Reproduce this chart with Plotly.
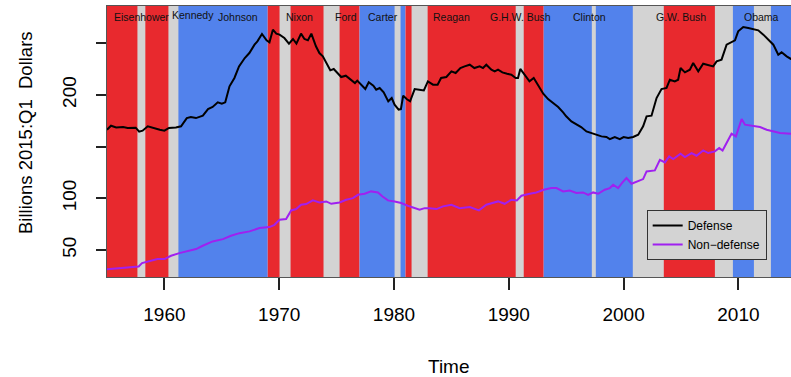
import plotly.graph_objects as go

# ---- data ----
def_years = [1955.0, 1955.35, 1955.8, 1956.4, 1956.8, 1957.5, 1957.8, 1958.1, 1958.55, 1959.0,
             1959.6, 1960.0, 1960.4, 1961.0, 1961.45, 1961.95, 1962.3, 1962.75, 1963.35, 1963.8,
             1964.2, 1964.65, 1965.0, 1965.3, 1965.67, 1966.1, 1966.5, 1967.0, 1967.4, 1967.85,
             1968.1, 1968.5, 1968.9, 1969.15, 1969.45, 1969.75, 1970.03, 1970.45, 1970.85, 1971.2,
             1971.5, 1971.9, 1972.2, 1972.5, 1972.8, 1973.2, 1973.5, 1973.8, 1974.1, 1974.45,
             1974.75, 1975.1, 1975.4, 1975.8, 1976.2, 1976.6, 1976.8, 1977.15, 1977.5, 1977.8,
             1978.2, 1978.45, 1978.75, 1979.1, 1979.5, 1979.8, 1980.05, 1980.4, 1980.6, 1980.8,
             1981.1, 1981.4, 1981.8, 1982.2, 1982.6, 1982.95, 1983.4, 1983.8, 1984.1, 1984.56,
             1985.0, 1985.37, 1985.78, 1986.15, 1986.6, 1987.0, 1987.46, 1987.75, 1988.04, 1988.48,
             1988.77, 1989.06, 1989.44, 1989.85, 1990.22, 1990.6, 1990.8, 1991.0, 1991.4, 1991.8,
             1992.17, 1992.55, 1993.0, 1993.42, 1993.86, 1994.3, 1994.73, 1995.0, 1995.45, 1995.9,
             1996.3, 1996.76, 1997.2, 1997.6, 1998.07, 1998.5, 1998.8, 1999.23, 1999.67, 2000.0,
             2000.4, 2000.83, 2001.27, 2001.7, 2002.0, 2002.43, 2002.87, 2003.3, 2003.74, 2004.03,
             2004.46, 2004.75, 2004.96, 2005.34, 2005.77, 2006.06, 2006.5, 2006.93, 2007.37, 2007.8,
             2008.1, 2008.53, 2008.97, 2009.4, 2009.7, 2009.98, 2010.42, 2010.86, 2011.3, 2011.73,
             2012.17, 2012.6, 2013.04, 2013.47, 2013.76, 2014.2, 2014.58, 2015.0]
defense = [166.3, 170.2, 168.6, 169.0, 168.0, 168.3, 164.4, 165.4, 169.6, 168.0,
           166.3, 165.4, 168.0, 168.6, 169.6, 177.6, 178.6, 177.6, 179.9, 186.3,
           188.3, 192.8, 191.5, 192.8, 208.3, 216.4, 227.6, 235.7, 240.5, 248.6,
           251.8, 258.9, 252.8, 250.9, 263.1, 259.3, 258.3, 255.0, 249.6, 254.1,
           249.6, 259.3, 254.1, 252.8, 259.3, 247.0, 240.5, 237.3, 230.9, 223.8,
           225.1, 221.2, 217.3, 218.6, 214.7, 211.5, 213.8, 209.9, 205.7, 212.2,
           209.0, 205.1, 206.7, 202.5, 193.8, 197.0, 190.5, 185.7, 186.3, 199.3,
           196.0, 193.8, 205.7, 205.1, 204.4, 213.1, 209.9, 209.9, 216.4, 217.3,
           222.8, 221.2, 226.0, 227.6, 229.2, 226.0, 227.6, 226.0, 229.2, 224.4,
           222.8, 224.4, 221.8, 220.5, 219.6, 216.4, 216.4, 225.1, 219.6, 213.1,
           216.4, 209.9, 201.2, 196.0, 192.2, 188.3, 183.1, 179.3, 174.4, 171.2,
           168.9, 164.7, 163.1, 161.5, 159.9, 159.3, 157.3, 159.3, 157.3, 159.3,
           158.3, 159.3, 161.5, 169.6, 179.3, 179.9, 197.0, 205.7, 206.7, 214.7,
           213.1, 214.7, 226.0, 221.8, 224.4, 230.9, 222.8, 230.2, 229.2, 227.6,
           232.5, 234.1, 248.6, 250.9, 252.8, 261.5, 265.7, 264.7, 263.8, 262.5,
           258.3, 253.4, 248.6, 238.9, 241.2, 237.3, 234.7, 233.0]

nd_years = [1955.0, 1956.1, 1957.24, 1957.76, 1958.05, 1958.7, 1959.4, 1960.0, 1960.58, 1961.3,
            1962.0, 1962.76, 1963.34, 1964.2, 1965.1, 1965.8, 1966.54, 1967.41, 1968.28, 1969.15,
            1969.59, 1970.03, 1970.6, 1971.04, 1971.48, 1971.9, 1972.35, 1972.93, 1973.5, 1974.1,
            1974.53, 1975.26, 1975.84, 1976.42, 1976.86, 1977.44, 1978.0, 1978.6, 1979.0, 1979.47,
            1980.05, 1980.63, 1981.2, 1981.8, 1982.23, 1982.67, 1983.1, 1983.7, 1984.27, 1985.0,
            1985.72, 1986.6, 1987.4, 1988.04, 1989.06, 1989.64, 1990.22, 1990.7, 1991.1, 1991.82,
            1992.4, 1993.04, 1993.71, 1994.15, 1994.73, 1995.31, 1995.89, 1996.47, 1996.91, 1997.34,
            1997.78, 1998.36, 1998.8, 1999.09, 1999.52, 1999.9, 2000.25, 2000.69, 2001.27, 2001.7,
            2002.0, 2002.72, 2003.16, 2003.6, 2003.97, 2004.32, 2004.96, 2005.34, 2005.92, 2006.35,
            2006.93, 2007.37, 2007.95, 2008.33, 2008.62, 2009.11, 2009.4, 2009.78, 2010.28, 2010.57,
            2011.15, 2011.88, 2012.46, 2013.04, 2013.62, 2014.58, 2015.0]
nondefense = [31.5, 32.5, 34.1, 34.1, 37.3, 38.9, 41.2, 41.2, 44.4, 47.0,
              48.6, 50.9, 54.1, 58.3, 60.5, 63.8, 66.3, 68.0, 71.2, 72.2,
              74.4, 79.2, 79.9, 88.3, 89.6, 93.8, 94.4, 98.0, 96.0, 97.0,
              94.7, 96.0, 98.6, 100.2, 103.4, 104.4, 106.7, 105.7, 101.8, 98.0,
              97.0, 95.4, 92.8, 90.5, 88.9, 90.5, 90.5, 89.6, 92.2, 93.8,
              90.5, 91.5, 88.3, 93.8, 97.0, 94.7, 98.6, 98.0, 102.5, 104.4,
              105.7, 108.3, 109.9, 109.9, 106.7, 107.6, 105.1, 105.7, 103.4, 105.7,
              104.4, 108.3, 109.9, 113.1, 109.9, 115.4, 119.6, 114.1, 116.3, 118.6,
              126.0, 127.0, 137.3, 134.7, 140.5, 138.0, 143.1, 139.9, 143.8, 141.2,
              146.3, 143.8, 145.4, 148.6, 146.3, 156.7, 162.5, 159.9, 176.7, 171.2,
              170.2, 168.9, 166.3, 164.7, 163.1, 162.5, 162.0]

party_start = [1953.0, 1961.05, 1969.0, 1977.0, 1981.0, 1993.04, 2001.0, 2009.05]
party_end = [1961.05, 1969.0, 1977.0, 1981.0, 1993.04, 2001.0, 2009.05, 2016.0]
party = ["R", "D", "R", "D", "R", "D", "R", "D"]

rec_start = [1957.65, 1960.35, 1970.03, 1973.86, 1980.05, 1981.53, 1990.60, 1997.23, 2000.80, 2007.95, 2011.35]
rec_end = [1958.34, 1961.22, 1970.99, 1975.26, 1980.57, 1982.93, 1991.30, 1997.58, 2003.50, 2009.52, 2012.83]

presidents = ["Eisenhower", "Kennedy", "Johnson", "Nixon", "Ford", "Carter", "Reagan",
              "G.H.W. Bush", "Clinton", "G.W. Bush", "Obama"]
pres_mid = [1958.0, 1962.45, 1966.45, 1971.8, 1975.8, 1979.0, 1985.0, 1991.0, 1997.0, 2005.0, 2012.0]
pres_y = [0.9605, 0.966, 0.9605, 0.9605, 0.9605, 0.9605, 0.9605, 0.9605, 0.9605, 0.9605, 0.9605]

y_ticks = [50, 100, 150, 200, 250]
y_ticklabels = ["50", "100", "", "200", ""]
x_ticks = [1960, 1970, 1980, 1990, 2000, 2010]

RED = "#E8292E"
BLUE = "#5282EC"
GRAY = "#D3D3D3"
FONT = "Liberation Sans, Arial, sans-serif"

fig = go.Figure()

shapes = []
for s, e, p in zip(party_start, party_end, party):
    shapes.append(dict(type="rect", xref="x", yref="paper", x0=s, x1=e, y0=0, y1=1,
                       fillcolor=RED if p == "R" else BLUE, line=dict(width=0), layer="below"))
for s, e in zip(rec_start, rec_end):
    shapes.append(dict(type="rect", xref="x", yref="paper", x0=s, x1=e, y0=0, y1=1,
                       fillcolor=GRAY, line=dict(width=0), layer="below"))

fig.add_trace(go.Scatter(x=def_years, y=defense, mode="lines", name="Defense",
                         line=dict(color="black", width=2)))
fig.add_trace(go.Scatter(x=nd_years, y=nondefense, mode="lines", name="Non\u2212defense",
                         line=dict(color="#A020F0", width=2)))

annotations = []
for name, xm, yp in zip(presidents, pres_mid, pres_y):
    annotations.append(dict(x=xm, y=yp, xref="x", yref="paper", text=name, showarrow=False,
                            font=dict(size=10.5, color="#111", family=FONT),
                            xanchor="center", yanchor="middle"))
annotations.append(dict(x=0.5, y=-0.330, xref="paper", yref="paper", text="Time",
                        showarrow=False, font=dict(size=19, color="black", family=FONT),
                        xanchor="center", yanchor="middle"))
annotations.append(dict(x=-0.1199, y=0.535, xref="paper", yref="paper",
                        text="Billions 2015:Q1\u00a0\u00a0Dollars", textangle=-90,
                        showarrow=False, font=dict(size=18.5, color="black", family=FONT),
                        xanchor="center", yanchor="middle"))

fig.update_layout(
    width=791, height=377,
    margin=dict(l=107, r=0, t=6, b=100),
    paper_bgcolor="white", plot_bgcolor="white",
    font=dict(family=FONT, color="black"),
    shapes=shapes,
    annotations=annotations,
    showlegend=True,
    legend=dict(x=0.789, y=0.247, xanchor="left", yanchor="top",
                bgcolor=GRAY, bordercolor="#333", borderwidth=1,
                font=dict(size=12, color="black", family=FONT),
                itemwidth=30, tracegroupgap=0),
    xaxis=dict(range=[1955.0, 2014.58], tickmode="array", tickvals=x_ticks,
               ticks="outside", ticklen=12, tickcolor="#222", tickwidth=1.5,
               showline=True, linecolor="#555", linewidth=1, mirror=True,
               showgrid=False, zeroline=False,
               tickfont=dict(size=19, family=FONT, color="black"), ticklabelstandoff=8),
    yaxis=dict(range=[23.9, 286.0], tickmode="array", tickvals=y_ticks, ticktext=y_ticklabels,
               ticks="outside", ticklen=10, tickcolor="#222", tickwidth=1.5,
               showline=True, linecolor="#555", linewidth=1, mirror=False,
               showgrid=False, zeroline=False, tickangle=-90,
               tickfont=dict(size=19, family=FONT, color="black"), ticklabelstandoff=12),
)

fig.write_html("out.html")
